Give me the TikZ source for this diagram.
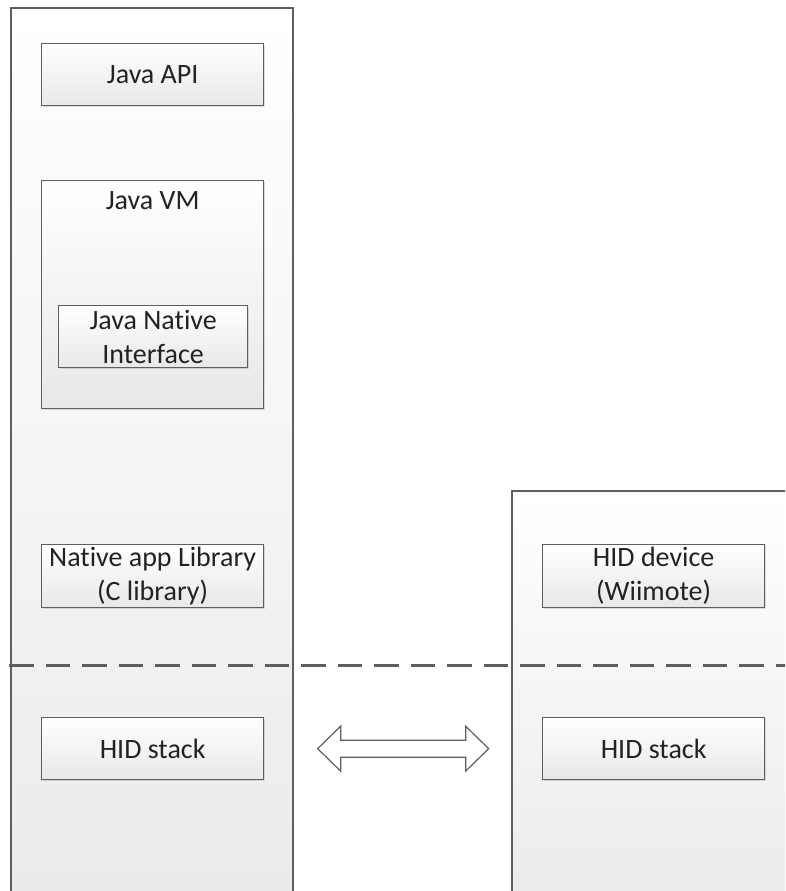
\documentclass[tikz,border=0pt]{standalone}
\usepackage{fontspec}
\setmainfont[RawFeature={-liga}]{Carlito}
\usetikzlibrary{shadows,calc}
\definecolor{edge}{HTML}{5E5E5E}
\definecolor{ink}{HTML}{222222}
\begin{document}
\begin{tikzpicture}[x=1pt,y=-1pt,
  lane/.style={draw=edge, line width=1.3pt, top color=white, bottom color=black!8},
  blk/.style={draw=edge, line width=1.3pt, top color=white, bottom color=black!9,
    drop shadow={shadow xshift=1.5pt, shadow yshift=-1.5pt, fill=black, opacity=0.12},
    anchor=north west, inner sep=0pt, align=center, text=ink,
    font=\fontsize{28}{34}\selectfont},
  lbl/.style={inner sep=0pt, text=ink, font=\fontsize{28}{34}\selectfont},
  divider/.style={draw=edge, line width=3pt, dash pattern=on 24.5pt off 12pt},
  link/.style={draw=edge, line width=1.2pt, fill=white}
]
\useasboundingbox (0,0) rectangle (785,891);
\begin{scope}
\clip (0,0) rectangle (785,891);
% host and device lanes
\path[lane] (11,8) rectangle (293,910);
\path[lane] (512,491) rectangle (800,910);

% host side blocks
\node[blk, minimum width=222pt, minimum height=62pt] (api) at (41,43) {Java API};
\node[blk, minimum width=222pt, minimum height=228pt] (vm) at (41,180) {};
\node[lbl, anchor=north] (vmname) at ([yshift=-11pt]vm.north) {Java VM};
\node[blk, minimum width=189pt, minimum height=62pt] (jni) at (58,305) {Java Native\\Interface};
\node[blk, minimum width=222pt, minimum height=63pt] (lib) at (41,544) {Native app Library\\(C library)};
\node[blk, minimum width=222pt, minimum height=62pt] (hosthid) at (41,717) {HID stack};

% device side blocks
\node[blk, minimum width=222pt, minimum height=63pt] (dev) at (542,544) {HID device\\(Wiimote)};
\node[blk, minimum width=222pt, minimum height=62pt] (devhid) at (542,717) {HID stack};

% user space / kernel divider
\coordinate (divL) at (9,665);
\coordinate (divR) at (800,665);
\draw[divider] (divL) -- (divR);
\end{scope}

% bidirectional link between the two HID stacks
\coordinate (mid) at ($(hosthid.east)!0.5!(devhid.west)$);
\path[link] ([xshift=-85.5pt]mid) -- ++(23,-22.5) -- ++(0,14) -- ++(125,0) -- ++(0,-14)
  -- ++(23,22.5) -- ++(-23,22.5) -- ++(0,-14) -- ++(-125,0) -- ++(0,14) -- cycle;
\end{tikzpicture}
\end{document}
